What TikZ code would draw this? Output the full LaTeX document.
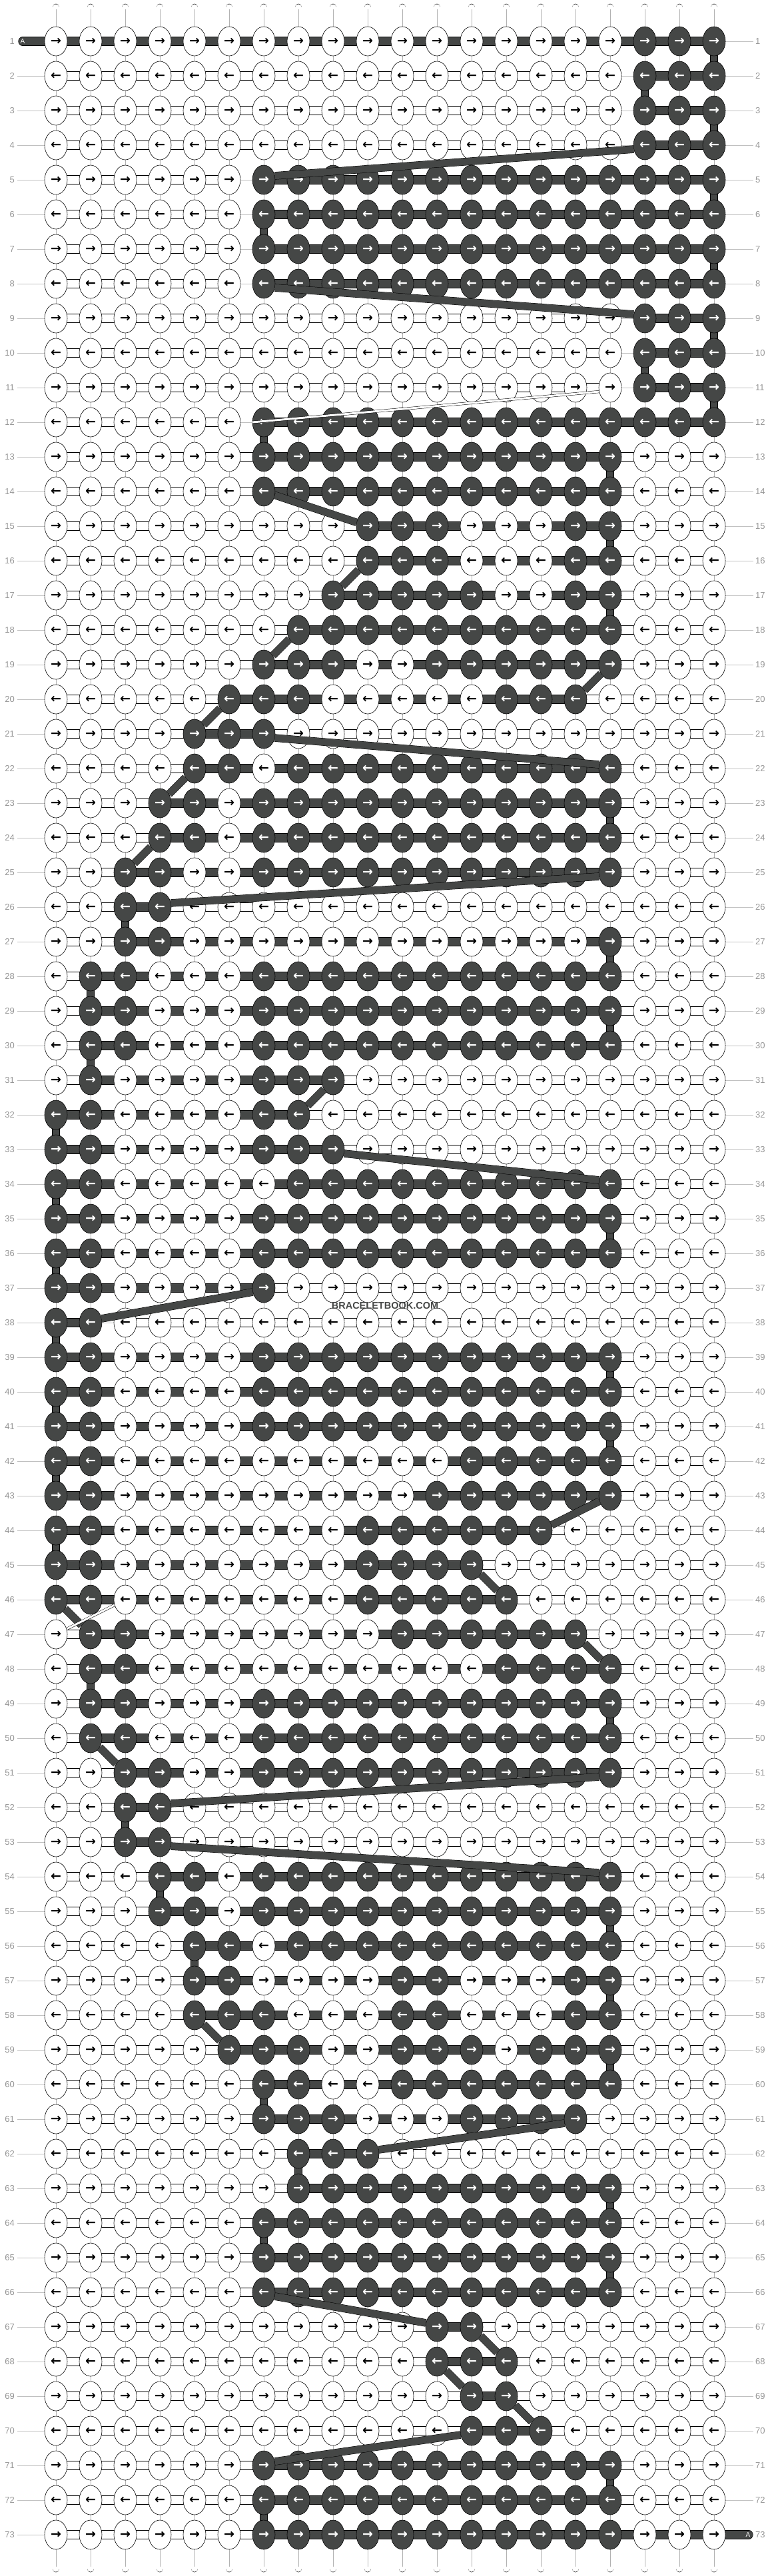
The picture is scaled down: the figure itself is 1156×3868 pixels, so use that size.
\documentclass[tikz,border=0pt]{standalone}
\usepackage{fontspec}
\setmainfont{Liberation Sans}
\newfontfamily\arrowfont{DejaVu Sans}
\usetikzlibrary{shapes.geometric, backgrounds}

\definecolor{threaddark}{RGB}{69,71,70}
\definecolor{labelgrey}{RGB}{150,150,150}
\definecolor{leadgrey}{RGB}{192,192,192}

\tikzset{
  knot/.style={ellipse, draw=black, line width=0.6pt, fill=white, minimum width=34pt, minimum height=44pt, inner sep=0pt, font=\arrowfont\bfseries\fontsize{19}{19}\selectfont},
  rowlabel/.style={text=labelgrey, font=\fontsize{13}{13}\selectfont, inner sep=0pt},
  darklink/.style={draw=black, line width=0.6pt, double=threaddark, double distance=12pt},
  whitelink/.style={draw=black, line width=0.6pt, double=white, double distance=12.5pt},
  thinlink/.style={draw=leadgrey, line width=0.7pt},
  warp/.style={draw=black, line width=0.6pt, double=white, double distance=9.5pt},
  warpmid/.style={draw=black!30, line width=0.8pt},
  darkwarp/.style={draw=black, line width=0.6pt, double=threaddark, double distance=10pt},
  jump/.style={draw=black, line width=0.5pt, double=threaddark, double distance=10.5pt},
  whitejump/.style={draw=black, line width=0.5pt, double=white, double distance=3pt},
  lead/.style={draw=leadgrey, line width=0.8pt}
}

\begin{document}
\begin{tikzpicture}[x=1pt, y=-1pt]
\useasboundingbox (0,0) rectangle (1156,3868);

% Draw the knots row by row (row / dark knots / A enters / A leaves)
\foreach \r/\dk/\ea/\eb in {
  1/{18,19,20}/0/20, 2/{18,19,20}/20/18, 3/{18,19,20}/18/20, 4/{18,19,20}/20/18,
  5/{7,...,20}/7/20, 6/{7,...,20}/20/7, 7/{7,...,20}/7/20, 8/{7,...,20}/20/7,
  9/{18,19,20}/18/20, 10/{18,19,20}/20/18, 11/{18,19,20}/18/20, 12/{7,...,20}/20/7,
  13/{7,...,17}/7/17, 14/{7,...,17}/17/7, 15/{10,11,12,16,17}/10/17, 16/{10,11,12,16,17}/17/10,
  17/{9,...,13,16,17}/9/17, 18/{8,...,17}/17/8, 19/{7,8,9,12,13,...,17}/7/17, 20/{6,7,8,14,15,16}/16/6,
  21/{5,6,7}/5/7, 22/{5,6,8,9,...,17}/17/5, 23/{4,5,7,8,...,17}/4/17, 24/{4,5,7,8,...,17}/17/4,
  25/{3,4,7,8,...,17}/3/17, 26/{3,4}/4/3, 27/{3,4,17}/3/17, 28/{2,3,7,8,...,17}/17/2,
  29/{2,3,7,8,...,17}/2/17, 30/{2,3,7,8,...,17}/17/2, 31/{2,7,8,9}/2/9, 32/{1,2,7,8}/8/1,
  33/{1,2,7,8,9}/1/9, 34/{1,2,8,9,...,17}/17/1, 35/{1,2,7,8,...,17}/1/17, 36/{1,2,7,8,...,17}/17/1,
  37/{1,2,7}/1/7, 38/{1,2}/2/1, 39/{1,2,7,8,...,17}/1/17, 40/{1,2,7,8,...,17}/17/1,
  41/{1,2,7,8,...,17}/1/17, 42/{1,2,13,14,...,17}/17/1, 43/{1,2,12,13,...,17}/1/17, 44/{1,2,10,11,...,15}/15/1,
  45/{1,2,10,11,...,13}/1/13, 46/{1,2,10,11,...,14}/14/1, 47/{2,3,11,12,...,16}/2/16, 48/{2,3,14,15,...,17}/17/2,
  49/{2,3,7,8,...,17}/2/17, 50/{2,3,7,8,...,17}/17/2, 51/{3,4,7,8,...,17}/3/17, 52/{3,4}/4/3,
  53/{3,4}/3/4, 54/{4,5,7,8,...,17}/17/4, 55/{4,5,7,8,...,17}/4/17, 56/{5,6,8,9,...,17}/17/5,
  57/{5,6,11,12,16,17}/5/17, 58/{5,6,7,11,12,16,17}/17/5, 59/{6,7,8,11,12,13,15,16,17}/6/17, 60/{7,8,11,12,...,17}/17/7,
  61/{7,8,9,13,14,15,16}/7/16, 62/{8,9,10}/10/8, 63/{8,...,17}/8/17, 64/{7,...,17}/17/7,
  65/{7,...,17}/7/17, 66/{7,...,17}/17/7, 67/{12,13}/12/13, 68/{12,13,14}/14/12,
  69/{13,14}/13/14, 70/{13,14,15}/15/13, 71/{7,...,17}/7/17, 72/{7,...,17}/17/7,
  73/{7,...,17}/7/21}{
  \pgfmathtruncatemacro\yy{10+52*\r}
  \pgfmathtruncatemacro\lo{min(\ea,\eb)}
  \pgfmathtruncatemacro\hi{max(\ea,\eb)}
  \foreach \c in \dk {\expandafter\xdef\csname dk-\r-\c\endcsname{1}}
  \ifodd\r\relax \def\arr{→}\else \def\arr{←}\fi
  \gdef\wlo{0}\gdef\whi{0}
  \foreach \c in {1,...,20}{
    \pgfmathtruncatemacro\xx{32+52*\c}
    \ifcsname dk-\r-\c\endcsname
      \node[knot, fill=threaddark, text=white] (k-\r-\c) at (\xx,\yy) {\arr};
    \else
      \node[knot] (k-\r-\c) at (\xx,\yy) {\arr};
      \ifnum\wlo=0 \xdef\wlo{\c}\fi
      \xdef\whi{\c}
    \fi
  }
  % links along the row
  \begin{pgfonlayer}{background}
  \foreach \c in {1,...,19}{
    \pgfmathtruncatemacro\cn{\c+1}
    \def\kind{0}
    \ifnum\c<\whi\relax \ifnum\c<\wlo\relax\else \def\kind{1}\fi\fi
    \ifnum\c<\hi\relax \ifnum\c<\lo\relax\else \def\kind{2}\fi\fi
    \ifcase\kind\relax
      \draw[thinlink] (k-\r-\c.center) -- (k-\r-\cn.center);
    \or
      \draw[whitelink] (k-\r-\c.center) -- (k-\r-\cn.center);
    \or
      \draw[darklink] (k-\r-\c.center) -- (k-\r-\cn.center);
    \fi
  }
  \end{pgfonlayer}
}

\begin{pgfonlayer}{background}
% Draw the strings between rows
\foreach \r in {1,...,72}{
  \pgfmathtruncatemacro\rn{\r+1}
  \foreach \c in {1,...,20}{
    \draw[warp] (k-\r-\c.center) -- (k-\rn-\c.center);
    \draw[warpmid] (k-\r-\c.center) -- (k-\rn-\c.center);
  }
}
% the dark string turning down at the row ends
\foreach \r/\c in {1/20, 2/18, 3/20, 5/20, 6/7, 7/20, 9/20, 10/18, 11/20, 12/7, 13/17, 15/17,
  17/17, 23/17, 26/3, 27/17, 28/2, 29/17, 30/2, 32/1, 34/1, 35/17, 36/1, 38/1, 39/17, 40/1,
  41/17, 42/1, 44/1, 48/2, 49/17, 52/3, 54/4, 55/17, 56/5, 57/17, 59/17, 60/7, 62/8, 63/17,
  64/7, 65/17, 71/17, 72/7}{
  \pgfmathtruncatemacro\rn{\r+1}
  \draw[darkwarp] (k-\r-\c.center) -- (k-\rn-\c.center);
}

% Draw the loose string ends at top and bottom
\foreach \c in {1,...,20}{
  \pgfmathtruncatemacro\xx{32+52*\c}
  \coordinate (top-\c) at (\xx,11);
  \coordinate (bot-\c) at (\xx,3857);
  \draw[warp, line cap=round] (top-\c) -- (k-1-\c.center);
  \draw[warpmid] ([yshift=-3pt]top-\c) -- (k-1-\c.center);
  \draw[warp, line cap=round] (k-73-\c.center) -- (bot-\c);
  \draw[warpmid] (k-73-\c.center) -- ([yshift=3pt]bot-\c);
}

% Draw the row numbers
\foreach \r in {1,...,73}{
  \pgfmathtruncatemacro\yy{10+52*\r}
  \coordinate (lead-\r) at (26,\yy);
  \coordinate (rlead-\r) at (1131,\yy);
  \ifnum\r>1 \draw[lead] (lead-\r) -- (k-\r-1.center); \fi
  \ifnum\r<73 \draw[lead] (k-\r-20.center) -- (rlead-\r); \fi
}

% the string A coming in and going out
\coordinate (tail-l) at (34,62);
\coordinate (tail-r) at (1124,3806);
\draw[darklink, line cap=round] (tail-l) -- (k-1-1.center);
\draw[darklink, line cap=round] (k-73-20.center) -- (tail-r);
\end{pgfonlayer}

\foreach \r in {1,...,73}{
  \pgfmathtruncatemacro\yy{10+52*\r}
  \node[rowlabel, anchor=east] (lab-\r) at (22,\yy) {\r};
  \node[rowlabel, anchor=west] (rlab-\r) at (1134,\yy) {\r};
}
\node[text=white, font=\fontsize{10}{10}\selectfont, inner sep=0pt] (tail-a-l) at (34,62) {A};
\node[text=white, font=\fontsize{10}{10}\selectfont, inner sep=0pt] (tail-a-r) at (1123,3806) {A};

% Draw the dark string jumping to the next row
\foreach \r/\ca/\cb in {4/18/7, 8/7/18, 14/7/10, 16/10/9, 18/8/7, 19/17/16, 20/6/5, 21/7/17,
  22/5/4, 24/4/3, 25/17/4, 31/9/8, 33/9/17, 37/7/2, 43/17/15, 45/13/14, 46/1/2, 47/16/17,
  50/2/3, 51/17/4, 53/4/17, 58/5/6, 61/16/10, 66/7/12, 67/13/14, 68/12/13, 69/14/15, 70/13/7}{
  \pgfmathtruncatemacro\rn{\r+1}
  \pgfmathtruncatemacro\dc{\cb-\ca}
  \ifnum\dc>3 \draw[jump] (k-\r-\ca.340) -- (k-\rn-\cb.160);
  \else\ifnum\dc<-3 \draw[jump] (k-\r-\ca.200) -- (k-\rn-\cb.20);
  \else \draw[jump] (k-\r-\ca) -- (k-\rn-\cb);
  \fi\fi
}

% the white string jumping
\draw[whitejump] (k-11-17.200) -- (k-12-7.west);
\draw[whitejump] (k-46-3) -- (k-47-1);

\node[text=threaddark, font=\bfseries\fontsize{14.5}{14.5}\selectfont, inner sep=0pt] (watermark) at (578,1960) {BRACELETBOOK.COM};
\end{tikzpicture}
\end{document}
